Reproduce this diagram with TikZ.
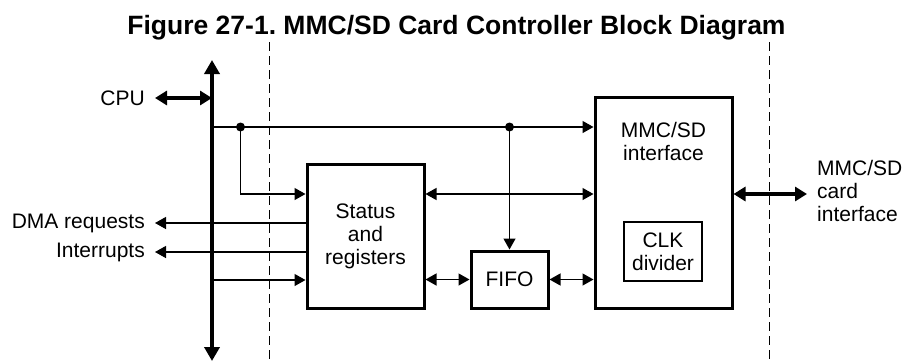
\documentclass[tikz,border=0pt]{standalone}
\usepackage{fontspec}
\setmainfont{Liberation Sans}
\usetikzlibrary{arrows.meta,calc}
\frenchspacing
\tikzset{
  blk/.style={draw, line width=3pt, rectangle, inner sep=0pt, align=center},
  smallblk/.style={draw, line width=1.8pt, rectangle, inner sep=0pt, align=center},
  thin/.style={line width=1.3pt},
  tip/.style={-{Triangle[length=11pt,width=12pt]}},
  dtip/.style={{Triangle[length=11pt,width=12pt]}-{Triangle[length=11pt,width=12pt]}},
  thick2/.style={line width=4pt,{Triangle[length=12pt,width=14pt]}-{Triangle[length=12pt,width=14pt]}},
  divider/.style={line width=1pt, dash pattern=on 9pt off 5pt},
  lbl/.style={font=\fontsize{21}{23}\selectfont, inner sep=0pt},
  dot/.style={circle, fill, inner sep=0pt, minimum size=9pt}
}
\begin{document}
\begin{tikzpicture}[x=1pt,y=-1pt]
\useasboundingbox (0,0) rectangle (904,362);
% title
\node[font=\fontsize{26.5}{28}\selectfont\bfseries, anchor=base, inner sep=0pt] (title) at (456.5,34) {Figure 27-1. MMC/SD Card Controller Block Diagram};
% dashed dividers
\coordinate (dv1t) at (269,42); \coordinate (dv1b) at (269,362);
\coordinate (dv2t) at (769,42); \coordinate (dv2b) at (769,362);
\draw[divider] (dv1t) -- (dv1b);
\draw[divider] (dv2t) -- (dv2b);
% blocks
\node[blk, minimum width=117pt, minimum height=144pt, lbl] (status) at (365.5,236) {Status\\and\\registers};
\node[blk, minimum width=137pt, minimum height=211pt] (mmc) at (663.5,202.5) {};
\node[lbl, align=center] (mmclbl) at (663.5,141) {MMC/SD\\interface};
\node[smallblk, minimum width=78pt, minimum height=59pt, lbl] (clk) at (663,251.5) {CLK\\divider};
\node[blk, minimum width=77pt, minimum height=57pt, lbl] (fifo) at (509.5,279.5) {FIFO};
% bus
\coordinate (bust) at (212,60); \coordinate (busb) at (212,361);
\draw[line width=4.5pt,{Triangle[length=14pt,width=15pt]}-{Triangle[length=14pt,width=15pt]}] (busb) -- (bust);
% CPU
\node[lbl, anchor=east] (cpu) at (145,98) {CPU};
\coordinate (cpuL) at (155,98);
\draw[thick2] (cpuL) -- (cpuL -| bust);
% left labels
\node[lbl, anchor=east] (dma) at (145,223) {DMA requests};
\node[lbl, anchor=east] (irq) at (145,252) {Interrupts};
\coordinate (dmaL) at (155,223);
\coordinate (irqL) at (155,252);
% top line
\coordinate (j0) at (212,127);
\node[dot] (d1) at (240.5,127) {};
\node[dot] (d2) at (509.5,127) {};
\draw[thin,tip] (j0) -- (j0 -| mmc.west);
\draw[thin,tip] (d1.center) |- (status.west |- 0,194);
\draw[thin,tip] (d2.center) -- (fifo.north);
% DMA / interrupts
\draw[thin,tip] (status.west |- dmaL) -- (dmaL);
\draw[thin,tip] (status.west |- irqL) -- (irqL);
% bus to status
\coordinate (j1) at (212,280);
\draw[thin,tip] (j1) -- (j1 -| status.west);
% status <-> mmc
\draw[thin,dtip] (status.east |- 0,194) -- (mmc.west |- 0,194);
\draw[thin,dtip] (status.east |- fifo.west) -- (fifo.west);
\draw[thin,dtip] (fifo.east) -- (fifo.east -| mmc.west);
% card interface
\coordinate (cardR) at (807,194);
\draw[thick2] (mmc.east |- cardR) -- (cardR);
\node[lbl, anchor=west, align=left] (card) at (817,191) {MMC/SD\\card\\interface};
\end{tikzpicture}
\end{document}
